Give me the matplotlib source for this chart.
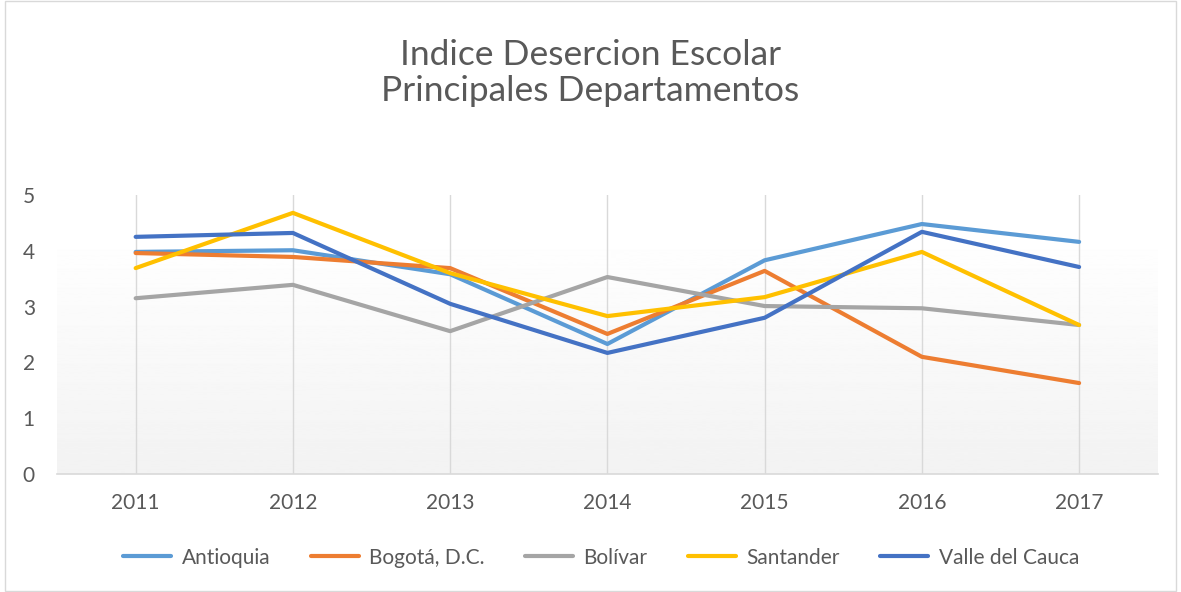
import matplotlib
matplotlib.use("Agg")
from matplotlib import pyplot as plt
from matplotlib.patches import Rectangle
import numpy as np

plt.rcParams["font.family"] = ["Lato", "DejaVu Sans"]

years = ["2011", "2012", "2013", "2014", "2015", "2016", "2017"]
antioquia = [3.98, 4.01, 3.58, 2.33, 3.83, 4.48, 4.16]
bogota = [3.96, 3.89, 3.69, 2.51, 3.64, 2.10, 1.63]
bolivar = [3.15, 3.39, 2.56, 3.53, 3.01, 2.97, 2.67]
santander = [3.69, 4.68, 3.60, 2.83, 3.17, 3.98, 2.67]
valle = [4.25, 4.32, 3.05, 2.17, 2.80, 4.34, 3.71]

series = [
    ("Antioquia", antioquia, "#5B9BD5"),
    ("Bogotá, D.C.", bogota, "#ED7D31"),
    ("Bolívar", bolivar, "#A5A5A5"),
    ("Santander", santander, "#FFC000"),
    ("Valle del Cauca", valle, "#4472C4"),
]

text_col = "#595959"
grid_col = "#D9D9D9"

fig = plt.figure(figsize=(11.81, 5.92), dpi=100)
fig.patches.append(Rectangle((0.004, 0.002), 0.992, 0.996, transform=fig.transFigure,
                             fill=False, edgecolor=grid_col, linewidth=1))

ax = fig.add_axes([0.0483, 0.1993, 0.932, 0.4713])
x = np.arange(len(years))

# gradient background in plot area
grad = np.linspace(0.95, 1.0, 256).reshape(-1, 1)
ax.imshow(grad, cmap="gray", vmin=0, vmax=1, aspect="auto", origin="lower",
          extent=(-0.5, len(years) - 0.5, 0, 4.37), zorder=0)

for xi in x:
    ax.axvline(xi, color=grid_col, linewidth=1, zorder=1)

for name, vals, col in series:
    ax.plot(x, vals, color=col, linewidth=3, label=name, zorder=3,
            solid_capstyle="round", solid_joinstyle="round")

ax.set_xlim(-0.5, len(years) - 0.5)
ax.set_ylim(0, 5)
ax.set_xticks(x)
ax.set_xticklabels(years)
ax.set_yticks(range(0, 6))
ax.tick_params(axis="both", length=0, labelsize=15, colors=text_col)
ax.tick_params(axis="x", pad=14)
ax.tick_params(axis="y", pad=16)
for side in ["top", "right", "left"]:
    ax.spines[side].set_visible(False)
ax.spines["bottom"].set_color(grid_col)
ax.spines["bottom"].set_linewidth(1.2)
ax.set_facecolor("white")

fig.text(0.5, 0.877, "Indice Desercion Escolar\nPrincipales Departamentos",
         ha="center", va="center", fontsize=25.5, color=text_col, linespacing=1.15)

fig.legend(loc="center", bbox_to_anchor=(0.509, 0.058), ncol=5, frameon=False,
           fontsize=15, labelcolor=text_col, handlelength=2.3, handletextpad=0.5,
           columnspacing=1.95)

fig.savefig("out.png", dpi=100, facecolor="white")
